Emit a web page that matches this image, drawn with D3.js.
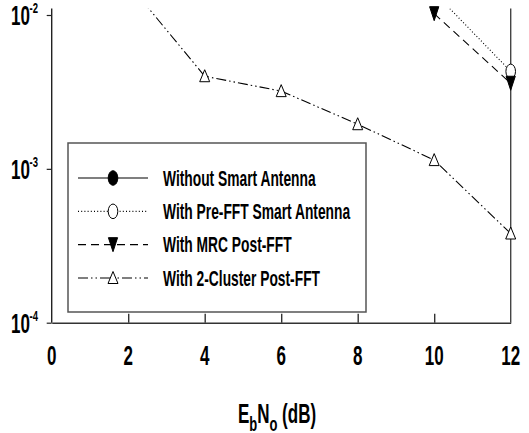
<!DOCTYPE html>
<html>
<head>
<meta charset="utf-8">
<script src="https://cdn.jsdelivr.net/npm/d3@7"></script>
<style>
  body { margin: 0; background: #fff; }
  text { font-family: "Liberation Sans", Arial, sans-serif; font-weight: bold; fill: #000; }
</style>
</head>
<body>
<div id="chart"></div>
<script>
(function () {

  // Data (BER vs Eb/No)
  const xTicks = [0, 2, 4, 6, 8, 10, 12]
  const yTicks = [1e-4, 1e-3, 1e-2]
  const yTickExp = ["-4", "-3", "-2"]
  const seriesNames = ["Without Smart Antenna", "With Pre-FFT Smart Antenna", "With MRC Post-FFT", "With 2-Cluster Post-FFT"]

  // no smart antenna: whole curve sits above the visible part of the plot
  const withoutX = []
  const withoutBer = []
  const preFftX = [10, 12]
  const preFftBer = [0.014, 0.0043]
  const mrcX = [10, 12]
  const mrcBer = [0.0102, 0.0036]
  const clusterX = [2, 4, 6, 8, 10, 12]
  const clusterBer = [0.016, 0.0040, 0.0032, 0.00195, 0.00114, 0.00038]

  const W = 529, H = 433
  const SY = 1.6   // the figure is stretched vertically, text and markers too
  const plotTop = 8.5

  const svg = d3.select("#chart").append("svg")
      .attr("width", W)
      .attr("height", H)

  const x = d3.scaleLinear().domain([0, 12]).range([51.7, 510.7])
  const y = d3.scaleLog().domain([1e-4, 1e-2]).range([322.7, 15])

  const series = [
    { name: seriesNames[0], xs: withoutX, ys: withoutBer, dash: null, marker: "circle", fill: "#000" },
    { name: seriesNames[1], xs: preFftX, ys: preFftBer, dash: "1,2.2", marker: "circle", fill: "#fff" },
    { name: seriesNames[2], xs: mrcX, ys: mrcBer, dash: "8,5", marker: "down", fill: "#000" },
    { name: seriesNames[3], xs: clusterX, ys: clusterBer, dash: "10,3,1.5,3,1.5,3", marker: "up", fill: "#fff" }
  ]
  series.forEach(s => { s.points = s.xs.map((v, i) => [v, s.ys[i]]) })

  function markerPath(type) {
    if (type == "circle") return "M-4.8,0A4.8,7.3 0 1,0 4.8,0A4.8,7.3 0 1,0 -4.8,0Z"
    if (type == "down") return "M-4.6,-7L4.6,-7L0,7Z"
    return "M0,-6.5L5,5.5L-5,5.5Z"
  }

  // clip for the curves
  svg.append("clipPath").attr("id", "plotClip")
    .append("rect")
    .attr("x", x(0)).attr("y", plotTop)
    .attr("width", x(12) - x(0) + 4).attr("height", y(1e-4) - plotTop)

  // Axes: bottom with inward ticks, left with small outward ticks, right frame line
  const xAxis = svg.append("g")
      .attr("transform", `translate(0,${y(1e-4)})`)
      .call(d3.axisBottom(x).tickValues(xTicks.slice(1, -1)).tickSizeInner(-9).tickSizeOuter(0).tickFormat(""))
  xAxis.selectAll("path, line").attr("stroke", "#333").attr("stroke-width", 1.4)

  const yAxis = svg.append("g")
      .attr("transform", `translate(${x(0)},0)`)
      .call(d3.axisLeft(y).tickValues(yTicks).tickSizeInner(5).tickSizeOuter(0).tickFormat(""))
  yAxis.select(".domain").remove()
  yAxis.selectAll("line").attr("stroke", "#222").attr("stroke-width", 1.2)

  svg.append("line")
    .attr("x1", x(0)).attr("x2", x(0))
    .attr("y1", plotTop).attr("y2", y(1e-4))
    .attr("stroke", "#222").attr("stroke-width", 1.4)
  svg.append("line")
    .attr("x1", x(12)).attr("x2", x(12))
    .attr("y1", plotTop).attr("y2", y(1e-4))
    .attr("stroke", "#444").attr("stroke-width", 1.4)

  // x tick labels
  svg.selectAll(".xlab")
    .data(xTicks)
    .join("text")
    .attr("class", "xlab")
    .attr("text-anchor", "middle")
    .attr("font-size", 17)
    .attr("transform", d => `translate(${x(d)},365) scale(1,${SY})`)
    .text(d => d)

  // y tick labels 10^n
  svg.selectAll(".ylab")
    .data(yTicks)
    .join("text")
    .attr("class", "ylab")
    .attr("text-anchor", "end")
    .attr("font-size", 17)
    .attr("transform", d => `translate(30,${y(d) + 10}) scale(1,${SY})`)
    .text("10")
  svg.selectAll(".yexp")
    .data(yTicks)
    .join("text")
    .attr("class", "yexp")
    .attr("font-size", 9.5)
    .attr("transform", d => `translate(29.5,${y(d) - 2}) scale(1,${SY})`)
    .text((d, i) => yTickExp[i])

  // axis title
  const title = svg.append("text")
    .attr("text-anchor", "middle")
    .attr("font-size", 17)
    .attr("transform", `translate(277,423) scale(1,${SY})`)
  title.append("tspan").text("E")
  title.append("tspan").attr("font-size", 13).attr("dy", 4.8).text("b")
  title.append("tspan").attr("dy", -4.8).text("N")
  title.append("tspan").attr("font-size", 13).attr("dy", 4.8).text("o")
  title.append("tspan").attr("dy", -4.8).text(" (dB)")

  // curves
  const line = d3.line().x(d => x(d[0])).y(d => y(d[1]))
  svg.append("g").attr("clip-path", "url(#plotClip)")
    .selectAll("path")
    .data(series)
    .join("path")
    .attr("d", d => line(d.points))
    .attr("fill", "none")
    .attr("stroke", "#000")
    .attr("stroke-width", 1.1)
    .attr("stroke-dasharray", d => d.dash)

  // markers (only the ones inside the plot)
  series.forEach(s => {
    svg.append("g").selectAll("path")
      .data(s.points.filter(p => y(p[1]) > plotTop))
      .join("path")
      .attr("d", markerPath(s.marker))
      .attr("transform", p => `translate(${x(p[0])},${y(p[1])})`)
      .attr("fill", s.fill)
      .attr("stroke", "#000")
      .attr("stroke-width", 1)
  })

  // Legend
  const legend = svg.append("g")
  legend.append("rect")
    .attr("x", 68).attr("y", 143)
    .attr("width", 298).attr("height", 169)
    .attr("fill", "#fff")
    .attr("stroke", "#555")
    .attr("stroke-width", 1.5)

  const rowY = d3.scalePoint().domain(seriesNames).range([178, 278])
  const rows = legend.selectAll(".row")
    .data(series)
    .join("g")
    .attr("class", "row")
    .attr("transform", d => `translate(0,${rowY(d.name)})`)
  rows.append("line")
    .attr("x1", 78).attr("x2", 148)
    .attr("stroke", "#000")
    .attr("stroke-width", 1.1)
    .attr("stroke-dasharray", d => d.dash)
  rows.append("path")
    .attr("d", d => markerPath(d.marker))
    .attr("transform", "translate(113,0)")
    .attr("fill", d => d.fill)
    .attr("stroke", "#000")
  rows.append("text")
    .attr("font-size", 13.8)
    .attr("transform", `translate(163,7.8) scale(1,${SY})`)
    .text(d => d.name)

})();
</script>
</body>
</html>
